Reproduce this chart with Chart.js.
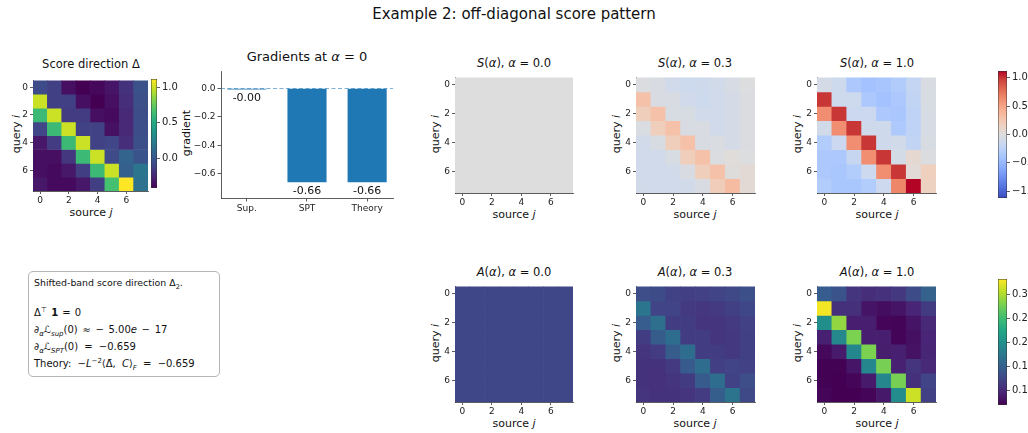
<!DOCTYPE html>
<html>
<head>
<meta charset="utf-8">
<script src="https://cdn.jsdelivr.net/npm/chart.js@4.4.0/dist/chart.umd.min.js"></script>
<style>
body { margin: 0; background: #fff; }
#fig { position: relative; width: 1028px; height: 433px; overflow: hidden; font-family: "DejaVu Sans", sans-serif; color: #111; }
#fig canvas { position: absolute; }
.lbl { position: absolute; white-space: nowrap; line-height: 1; transform: translate(-50%, -50%); }
.rot { transform: translate(-50%, -50%) rotate(-90deg); }
.bl { position: absolute; left: 34px; white-space: nowrap; line-height: 1; transform: translateY(-50%); font-size: 10px; word-spacing: 3px; }
sub, sup { font-size: 70%; line-height: 0; }
.box { position: absolute; left: 28px; top: 271px; width: 192px; height: 106px; border: 1px solid #b5b5b5; border-radius: 5px; box-sizing: border-box; }
</style>
</head>
<body>
<div id="fig">
  <div class="lbl" style="left:514px;top:14px;font-size:15px">Example 2: off-diagonal score pattern</div>

  <div class="lbl" style="left:91px;top:65px;font-size:11.5px">Score direction Δ</div>
  <div class="lbl rot" style="left:16px;top:134px;font-size:11px">query <i>i</i></div>
  <div class="lbl" style="left:91px;top:212px;font-size:11px">source <i>j</i></div>

  <div class="lbl" style="left:307px;top:56px;font-size:13px">Gradients at <i>α</i> = 0</div>
  <div class="lbl rot" style="left:186px;top:133px;font-size:11px">gradient</div>

  <div class="lbl" style="left:514px;top:64px;font-size:11.5px"><i>S</i>(<i>α</i>), <i>α</i> = 0.0</div>
  <div class="lbl" style="left:695px;top:64px;font-size:11.5px"><i>S</i>(<i>α</i>), <i>α</i> = 0.3</div>
  <div class="lbl" style="left:877px;top:64px;font-size:11.5px"><i>S</i>(<i>α</i>), <i>α</i> = 1.0</div>
  <div class="lbl rot" style="left:435px;top:134px;font-size:11px">query <i>i</i></div>
  <div class="lbl rot" style="left:616px;top:134px;font-size:11px">query <i>i</i></div>
  <div class="lbl rot" style="left:797px;top:134px;font-size:11px">query <i>i</i></div>
  <div class="lbl" style="left:514px;top:214px;font-size:11px">source <i>j</i></div>
  <div class="lbl" style="left:695px;top:214px;font-size:11px">source <i>j</i></div>
  <div class="lbl" style="left:877px;top:214px;font-size:11px">source <i>j</i></div>

  <div class="lbl" style="left:514px;top:273px;font-size:11.5px"><i>A</i>(<i>α</i>), <i>α</i> = 0.0</div>
  <div class="lbl" style="left:695px;top:273px;font-size:11.5px"><i>A</i>(<i>α</i>), <i>α</i> = 0.3</div>
  <div class="lbl" style="left:877px;top:273px;font-size:11.5px"><i>A</i>(<i>α</i>), <i>α</i> = 1.0</div>
  <div class="lbl rot" style="left:435px;top:343px;font-size:11px">query <i>i</i></div>
  <div class="lbl rot" style="left:616px;top:343px;font-size:11px">query <i>i</i></div>
  <div class="lbl rot" style="left:797px;top:343px;font-size:11px">query <i>i</i></div>
  <div class="lbl" style="left:514px;top:423px;font-size:11px">source <i>j</i></div>
  <div class="lbl" style="left:695px;top:423px;font-size:11px">source <i>j</i></div>
  <div class="lbl" style="left:877px;top:423px;font-size:11px">source <i>j</i></div>

  <div class="box"></div>
  <div class="bl" style="top:283px;font-size:9.4px;word-spacing:0">Shifted-band score direction Δ<sub>2</sub>.</div>
  <div class="bl" style="top:313px;word-spacing:1px">Δ<sup>⊤</sup> <b>1</b> = 0</div>
  <div class="bl" style="top:330px;word-spacing:1.5px">∂<sub><i>α</i></sub><i>ℒ</i><sub><i>sup</i></sub>(0) ≈ − 5.00<i>e</i> − 17</div>
  <div class="bl" style="top:347px">∂<sub><i>α</i></sub><i>ℒ</i><sub><i>SPT</i></sub>(0) = −0.659</div>
  <div class="bl" style="top:364px">Theory: −<i>L</i><sup>−2</sup>⟨Δ̄, <i>C</i>⟩<sub><i>F</i></sub> = −0.659</div>
</div>

<script>
// grid indices
const rows = [0, 1, 2, 3, 4, 5, 6, 7];
const cols = [0, 1, 2, 3, 4, 5, 6, 7];
const heatTicks = [0, 2, 4, 6];

// score direction Delta
const delta = [
  [-0.07, -0.13, -0.36, -0.42, -0.39, -0.33, -0.20, -0.04],
  [ 1.00, -0.13, -0.13, -0.36, -0.42, -0.36, -0.22, -0.05],
  [ 0.62,  1.00, -0.15, -0.15, -0.36, -0.38, -0.24, -0.06],
  [-0.10,  0.62,  1.00, -0.12, -0.12, -0.35, -0.24, -0.06],
  [-0.32, -0.15,  0.62,  1.00, -0.12, -0.10, -0.22, -0.05],
  [-0.36, -0.36, -0.18,  0.62,  1.00, -0.08,  0.07, -0.02],
  [-0.36, -0.38, -0.32, -0.14,  0.62,  1.00,  0.04,  0.18],
  [-0.32, -0.38, -0.38, -0.32, -0.14,  0.66,  1.12,  0.16]
];

// S(alpha)
const scoreAt00 = [
  [0, 0, 0, 0, 0, 0, 0, 0],
  [0, 0, 0, 0, 0, 0, 0, 0],
  [0, 0, 0, 0, 0, 0, 0, 0],
  [0, 0, 0, 0, 0, 0, 0, 0],
  [0, 0, 0, 0, 0, 0, 0, 0],
  [0, 0, 0, 0, 0, 0, 0, 0],
  [0, 0, 0, 0, 0, 0, 0, 0],
  [0, 0, 0, 0, 0, 0, 0, 0]
];
const scoreAt03 = [
  [-0.02, -0.04, -0.11, -0.13, -0.12, -0.10, -0.06, -0.01],
  [ 0.30, -0.04, -0.04, -0.11, -0.13, -0.11, -0.07, -0.02],
  [ 0.19,  0.30, -0.05, -0.05, -0.11, -0.11, -0.07, -0.02],
  [-0.03,  0.19,  0.30, -0.04, -0.04, -0.11, -0.07, -0.02],
  [-0.10, -0.05,  0.19,  0.30, -0.04, -0.03, -0.07, -0.02],
  [-0.11, -0.11, -0.05,  0.19,  0.30, -0.02,  0.02, -0.01],
  [-0.11, -0.11, -0.10, -0.04,  0.19,  0.30,  0.01,  0.05],
  [-0.10, -0.11, -0.11, -0.10, -0.04,  0.20,  0.34,  0.05]
];
const scoreAt10 = delta;

// A(alpha)
const attnAt00 = [
  [0.125, 0.125, 0.125, 0.125, 0.125, 0.125, 0.125, 0.125],
  [0.125, 0.125, 0.125, 0.125, 0.125, 0.125, 0.125, 0.125],
  [0.125, 0.125, 0.125, 0.125, 0.125, 0.125, 0.125, 0.125],
  [0.125, 0.125, 0.125, 0.125, 0.125, 0.125, 0.125, 0.125],
  [0.125, 0.125, 0.125, 0.125, 0.125, 0.125, 0.125, 0.125],
  [0.125, 0.125, 0.125, 0.125, 0.125, 0.125, 0.125, 0.125],
  [0.125, 0.125, 0.125, 0.125, 0.125, 0.125, 0.125, 0.125],
  [0.125, 0.125, 0.125, 0.125, 0.125, 0.125, 0.125, 0.125]
];
const attnAt03 = [
  [0.132, 0.129, 0.121, 0.118, 0.120, 0.122, 0.127, 0.133],
  [0.172, 0.122, 0.122, 0.114, 0.112, 0.114, 0.119, 0.125],
  [0.147, 0.165, 0.117, 0.117, 0.110, 0.109, 0.114, 0.120],
  [0.117, 0.146, 0.163, 0.117, 0.117, 0.109, 0.113, 0.119],
  [0.110, 0.116, 0.146, 0.163, 0.117, 0.117, 0.113, 0.119],
  [0.108, 0.108, 0.114, 0.145, 0.163, 0.118, 0.122, 0.120],
  [0.108, 0.107, 0.109, 0.115, 0.145, 0.163, 0.121, 0.132],
  [0.110, 0.108, 0.108, 0.110, 0.116, 0.148, 0.170, 0.127]
];
const attnAt10 = [
  [0.147, 0.138, 0.110, 0.104, 0.107, 0.113, 0.129, 0.152],
  [0.328, 0.106, 0.106, 0.084, 0.079, 0.084, 0.097, 0.115],
  [0.198, 0.289, 0.092, 0.092, 0.074, 0.073, 0.084, 0.100],
  [0.093, 0.192, 0.280, 0.092, 0.092, 0.073, 0.081, 0.097],
  [0.075, 0.089, 0.191, 0.280, 0.091, 0.093, 0.083, 0.098],
  [0.071, 0.071, 0.085, 0.190, 0.278, 0.094, 0.110, 0.100],
  [0.071, 0.070, 0.074, 0.089, 0.190, 0.278, 0.106, 0.122],
  [0.074, 0.069, 0.069, 0.074, 0.088, 0.196, 0.311, 0.119]
];

// gradient bars
const barLabels = ['Sup.', 'SPT', 'Theory'];
const barValues = [-5.0e-17, -0.659, -0.659];
const gradTicks = [-0.6, -0.4, -0.2, 0.0];

// colour ranges and colorbar ticks
const deltaRange = [-0.42, 1.12];
const scoreRange = [-1.12, 1.12];
const attnRange = [0.070, 0.332];
const deltaCbTicks = [0.0, 0.5, 1.0];
const scoreCbTicks = [-1.0, -0.5, 0.0, 0.5, 1.0];
const attnCbTicks = [0.10, 0.15, 0.20, 0.25, 0.30];

const viridis = ['#440154', '#482475', '#414487', '#355f8d', '#2a788e', '#21918c',
  '#22a884', '#44bf70', '#7ad151', '#bddf26', '#fde725'];
const coolwarm = ['#3b4cc0', '#4d68d7', '#6282ea', '#779af7', '#8db0fe', '#a3c2ff',
  '#b8d0f9', '#ccd9ee', '#dddddd', '#ecd3c5', '#f5c4ac', '#f7b194', '#f49a7b',
  '#ec7f63', '#de604d', '#cb3e38', '#b40426'];

Chart.defaults.font.family = '"DejaVu Sans", sans-serif';
Chart.defaults.color = '#222';

const fig = document.getElementById('fig');
const spine = '#333';

function hexRgb(h) {
  return [parseInt(h.slice(1, 3), 16), parseInt(h.slice(3, 5), 16), parseInt(h.slice(5, 7), 16)];
}

function colorAt(cmap, range, v) {
  let t = (v - range[0]) / (range[1] - range[0]);
  t = Math.max(0, Math.min(1, t));
  const pos = t * (cmap.length - 1);
  const i = Math.min(Math.floor(pos), cmap.length - 2);
  const f = pos - i;
  const a = hexRgb(cmap[i]), b = hexRgb(cmap[i + 1]);
  const c = a.map((x, k) => Math.round(x + (b[k] - x) * f));
  return 'rgb(' + c.join(',') + ')';
}

function makeCanvas(left, top, w, h) {
  const c = document.createElement('canvas');
  c.width = w; c.height = h;
  c.style.left = left + 'px'; c.style.top = top + 'px';
  c.style.width = w + 'px'; c.style.height = h + 'px';
  fig.appendChild(c);
  return c;
}

function fixedTicks(list) {
  return function(scale) { scale.ticks = list.map(v => ({ value: v })); };
}

function heatmap(area, matrix, cmap, range) {
  const [ax, ay, aw, ah] = area;
  const yW = 26, xH = 20, pad = 4;
  const cv = makeCanvas(ax - yW, ay - pad, aw + yW + pad, ah + xH + pad);
  const datasets = rows.map(r => ({
    data: cols.map(c => ({ x: c, y: [r - 0.5, r + 0.5] })),
    backgroundColor: cols.map(c => colorAt(cmap, range, matrix[r][c])),
    borderWidth: 0
  }));
  new Chart(cv, {
    type: 'bar',
    data: { datasets: datasets },
    options: {
      responsive: false, animation: false, events: [],
      layout: { padding: { top: pad, right: pad, left: 0, bottom: 0 }, autoPadding: false },
      datasets: { bar: { grouped: false, barPercentage: 1, categoryPercentage: 1 } },
      plugins: { legend: { display: false }, tooltip: { enabled: false } },
      scales: {
        x: {
          type: 'linear', min: -0.5, max: 7.5, offset: false,
          afterBuildTicks: fixedTicks(heatTicks),
          afterFit: s => { s.height = xH; },
          ticks: { font: { size: 9 }, padding: 1.5, maxRotation: 0, autoSkip: false, callback: v => String(v) },
          grid: { offset: false, drawOnChartArea: false, tickLength: 3, color: spine, lineWidth: 0.8 },
          border: { display: true, color: spine, width: 0.8 }
        },
        y: {
          type: 'linear', min: -0.5, max: 7.5, reverse: true,
          afterBuildTicks: fixedTicks(heatTicks),
          afterFit: s => { s.width = yW; },
          ticks: { font: { size: 9 }, padding: 2, autoSkip: false, callback: v => String(v) },
          grid: { drawOnChartArea: false, tickLength: 3, color: spine, lineWidth: 0.8 },
          border: { display: true, color: spine, width: 0.8 }
        }
      }
    }
  });
}

function colorbar(area, cmap, range, ticks, fmt) {
  const [ax, ay, aw, ah] = area;
  const yW = 36, pad = 6;
  const cv = makeCanvas(ax, ay - pad, aw + yW, ah + 2 * pad);
  new Chart(cv, {
    type: 'bar',
    data: {
      labels: [''],
      datasets: [{
        data: [range],
        backgroundColor: function(ctx) {
          const a = ctx.chart.chartArea;
          if (!a) return cmap[0];
          const g = ctx.chart.ctx.createLinearGradient(0, a.bottom, 0, a.top);
          cmap.forEach((c, i) => g.addColorStop(i / (cmap.length - 1), c));
          return g;
        },
        borderColor: spine, borderWidth: 0.8, borderSkipped: false,
        barPercentage: 1, categoryPercentage: 1
      }]
    },
    options: {
      responsive: false, animation: false, events: [],
      layout: { padding: { top: pad, bottom: pad, left: 0, right: 0 }, autoPadding: false },
      plugins: { legend: { display: false }, tooltip: { enabled: false } },
      scales: {
        x: { display: false },
        y: {
          position: 'right', min: range[0], max: range[1],
          afterBuildTicks: fixedTicks(ticks),
          afterFit: s => { s.width = yW; },
          ticks: { font: { size: 10 }, padding: 2, autoSkip: false, callback: fmt },
          grid: { drawOnChartArea: false, tickLength: 3, color: spine, lineWidth: 0.8 },
          border: { display: false }
        }
      }
    }
  });
}

function signed(digits) {
  return v => (v < -1e-9 ? '\u2212' : '') + Math.abs(v).toFixed(digits);
}

// value labels under each bar
const barValueLabels = {
  id: 'barValueLabels',
  afterDatasetsDraw(chart) {
    const meta = chart.getDatasetMeta(1);
    const ctx = chart.ctx;
    ctx.save();
    ctx.font = '11px "DejaVu Sans"';
    ctx.fillStyle = '#111';
    ctx.textAlign = 'center';
    ctx.textBaseline = 'top';
    meta.data.forEach((el, i) => {
      ctx.fillText(barValues[i].toFixed(2), el.x, Math.max(el.y, el.base) + 3);
    });
    ctx.restore();
  }
};

function gradientBars(area) {
  const [ax, ay, aw, ah] = area;
  const yW = 40, xH = 22, pad = 4;
  const cv = makeCanvas(ax - yW, ay - pad, aw + yW + pad, ah + xH + pad);
  new Chart(cv, {
    type: 'bar',
    data: {
      datasets: [{
        type: 'line',
        data: [{ x: -0.43, y: 0 }, { x: 2.43, y: 0 }],
        borderColor: 'rgba(31,119,180,0.6)', borderWidth: 1, borderDash: [4, 2.5],
        pointRadius: 0, order: 0
      }, {
        type: 'bar',
        data: barLabels.map((l, i) => ({ x: i, y: barValues[i] })),
        backgroundColor: '#1f77b4', borderWidth: 0, minBarLength: 1,
        barPercentage: 0.65, categoryPercentage: 1, order: 1
      }]
    },
    options: {
      responsive: false, animation: false, events: [],
      layout: { padding: { top: pad, right: pad, left: 0, bottom: 0 }, autoPadding: false },
      plugins: { legend: { display: false }, tooltip: { enabled: false } },
      scales: {
        x: {
          type: 'linear', min: -0.43, max: 2.43, offset: false,
          afterBuildTicks: fixedTicks([0, 1, 2]),
          afterFit: s => { s.height = xH; },
          ticks: { font: { size: 9 }, padding: 2, maxRotation: 0, autoSkip: false, callback: v => barLabels[v] },
          grid: { offset: false, drawOnChartArea: false, tickLength: 3.5, color: spine, lineWidth: 0.8 },
          border: { display: true, color: spine, width: 0.8 }
        },
        y: {
          min: -0.77, max: 0.12,
          afterBuildTicks: fixedTicks(gradTicks),
          afterFit: s => { s.width = yW; },
          ticks: { font: { size: 9 }, padding: 2, autoSkip: false, callback: signed(1) },
          grid: { drawOnChartArea: false, tickLength: 3.5, color: spine, lineWidth: 0.8 },
          border: { display: true, color: spine, width: 0.8 }
        }
      }
    },
    plugins: [barValueLabels]
  });
}

// top-left panels
heatmap([33, 77, 115, 114], delta, viridis, deltaRange);
colorbar([151, 77, 6, 113], viridis, deltaRange, deltaCbTicks, signed(1));
gradientBars([221, 68, 172, 130]);

// S(alpha) row
heatmap([455, 74, 118, 119], scoreAt00, coolwarm, scoreRange);
heatmap([636, 74, 119, 119], scoreAt03, coolwarm, scoreRange);
heatmap([817, 74, 119, 119], scoreAt10, coolwarm, scoreRange);
colorbar([998, 69, 9, 131], coolwarm, scoreRange, scoreCbTicks, signed(1));

// A(alpha) row
heatmap([455, 283, 118, 119], attnAt00, viridis, attnRange);
heatmap([636, 283, 119, 119], attnAt03, viridis, attnRange);
heatmap([817, 283, 119, 119], attnAt10, viridis, attnRange);
colorbar([998, 277, 9, 130], viridis, attnRange, attnCbTicks, signed(2));
</script>
</body>
</html>
